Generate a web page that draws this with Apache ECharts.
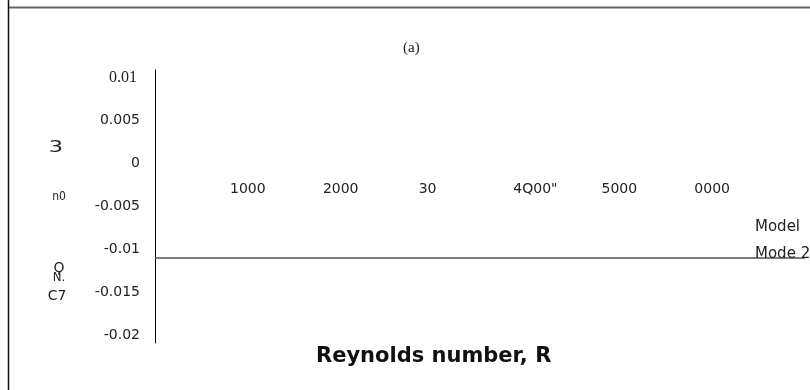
<!DOCTYPE html>
<html>
<head>
<meta charset="utf-8">
<script src="https://cdn.jsdelivr.net/npm/echarts@6/dist/echarts.min.js"></script>
<style>
  html, body { margin: 0; padding: 0; background: #fff; }
  #chart { width: 810px; height: 390px; }
</style>
</head>
<body>
<div id="chart"></div>
<script>
// Reynolds number ticks and their printed labels
const xTickValues = [1000, 2000, 3000, 4000, 5000, 6000];
const xTickLabels = ['1000', '2000', '30', '4Q00"', '5000', '0000'];

// Growth-rate ticks and their printed labels
const yTickValues = [0.01, 0.005, 0, -0.005, -0.01, -0.015, -0.02];
const yTickLabels = ['0.01', '0.005', '0', '-0.005', '-0.01', '-0.015', '-0.02'];

// Curves
const seriesNames = ['Model', 'Mode 2'];
const reynolds = [0, 7000];
const mode1 = [];
const mode2 = [-0.011, -0.011];

const Y_MIN = -0.0209, Y_MAX = 0.0109;
const GRID_TOP = 70, GRID_BOTTOM = 47, HEIGHT = 390;

const chart = echarts.init(document.getElementById('chart'), null, { renderer: 'canvas' });

function labelFor(values, labels, v) {
  for (let i = 0; i < values.length; i++) {
    if (Math.abs(values[i] - v) < 1e-9) return labels[i];
  }
  return '';
}

// lift the horizontal axis from the grid bottom up to the zero level
const plotH = HEIGHT - GRID_TOP - GRID_BOTTOM;
const zeroLift = Math.round((0 - Y_MIN) / (Y_MAX - Y_MIN) * plotH);

const sans = '"DejaVu Sans", Verdana, sans-serif';
const serif = '"Liberation Serif", "Times New Roman", serif';

chart.setOption({
  animation: false,
  backgroundColor: '#fff',
  title: [
    {
      text: '(a)',
      left: 398, top: 36,
      textStyle: { fontFamily: serif, fontSize: 15, fontWeight: 'normal', color: '#222' }
    },
    {
      text: 'Reynolds number, R',
      left: 311, top: 341,
      textStyle: { fontFamily: sans, fontSize: 21, fontWeight: 'bold', color: '#111' }
    }
  ],
  legend: {
    orient: 'vertical',
    left: 745, top: 215,
    itemWidth: 0, itemHeight: 0,
    itemGap: 12,
    icon: 'none',
    data: seriesNames,
    textStyle: { fontFamily: sans, fontSize: 15, color: '#222' }
  },
  grid: { left: 155, right: 5, top: GRID_TOP, bottom: GRID_BOTTOM, containLabel: false },
  xAxis: {
    type: 'value',
    min: 0, max: 7000, interval: 1000,
    position: 'bottom',
    offset: -zeroLift,
    axisLine: { show: false, onZero: false },
    axisTick: { show: false },
    splitLine: { show: false },
    axisLabel: {
      margin: 18,
      showMinLabel: false,
      showMaxLabel: false,
      fontFamily: sans, fontSize: 14, color: '#222',
      formatter: function (v) {
        const t = labelFor(xTickValues, xTickLabels, v);
        if (v === 3000) return '{l|' + t + '}';
        if (v === 4000) return '{r|' + t + '}';
        return t;
      },
      rich: {
        l: { fontFamily: sans, fontSize: 14, color: '#222', padding: [0, 12, 0, 0] },
        r: { fontFamily: sans, fontSize: 14, color: '#222', padding: [0, 0, 4, 18] }
      }
    }
  },
  yAxis: {
    type: 'value',
    min: Y_MIN, max: Y_MAX,
    axisLine: { show: true, onZero: false, lineStyle: { color: '#000', width: 1 } },
    axisTick: { show: false },
    splitLine: { show: false },
    axisLabel: {
      customValues: yTickValues,
      margin: 15,
      fontFamily: sans, fontSize: 14, color: '#222',
      formatter: function (v) {
        const t = labelFor(yTickValues, yTickLabels, v);
        return v === 0.01 ? '{s|' + t + '}' : t;
      },
      rich: {
        s: { fontFamily: serif, fontSize: 16, color: '#222', padding: [0, 3, 0, 0] }
      }
    }
  },
  series: [
    {
      name: seriesNames[0],
      type: 'line',
      data: mode1.map((y, i) => [reynolds[i], y]),
      symbol: 'none',
      lineStyle: { color: '#555', width: 1.5 },
      itemStyle: { color: '#555' }
    },
    {
      name: seriesNames[1],
      type: 'line',
      data: mode2.map((y, i) => [reynolds[i], y]),
      symbol: 'none',
      lineStyle: { color: '#555', width: 1.5 },
      itemStyle: { color: '#555' }
    }
  ],
  graphic: [
    // page frame
    { type: 'line', shape: { x1: 8, y1: 7.5, x2: 810, y2: 7.5 }, style: { stroke: '#666', lineWidth: 2 } },
    { type: 'line', shape: { x1: 8.5, y1: 0, x2: 8.5, y2: 390 }, style: { stroke: '#111', lineWidth: 1.5 } },
    // fragments of the vertical axis title
    { type: 'text', x: 56, y: 148, scaleX: 1.5, style: { text: '3', fontFamily: sans, fontSize: 15, fill: '#222', align: 'center', verticalAlign: 'middle' } },
    { type: 'text', x: 59, y: 197, style: { text: 'n0', fontFamily: '"DejaVu Sans Condensed", ' + sans, fontSize: 12, fill: '#222', align: 'center', verticalAlign: 'middle' } },
    { type: 'text', x: 59, y: 268, style: { text: 'Ϙ', fontFamily: sans, fontSize: 14, fill: '#222', align: 'center', verticalAlign: 'middle' } },
    { type: 'text', x: 59, y: 278, style: { text: 'N.', fontFamily: '"DejaVu Sans Condensed", ' + sans, fontSize: 13, fill: '#222', align: 'center', verticalAlign: 'middle' } },
    { type: 'text', x: 57, y: 296, style: { text: 'C7', fontFamily: sans, fontSize: 14, fill: '#222', align: 'center', verticalAlign: 'middle' } }
  ]
});
</script>
</body>
</html>
